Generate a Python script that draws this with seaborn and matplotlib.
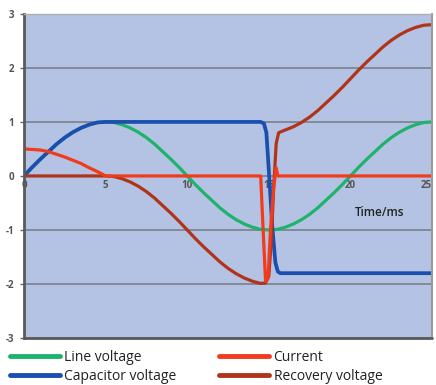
import seaborn as sns
import numpy as np
import matplotlib.pyplot as plt
import pandas as pd

# Values (time in ms, per-unit values)
t_line = [0, 0.5, 1, 1.5, 2, 2.5, 3, 3.5, 4, 4.5, 5, 5.5, 6, 6.5, 7, 7.5, 8, 8.5, 9, 9.5,
          10, 10.5, 11, 11.5, 12, 12.5, 13, 13.5, 14, 14.5, 15, 15.5, 16, 16.5, 17, 17.5,
          18, 18.5, 19, 19.5, 20, 20.5, 21, 21.5, 22, 22.5, 23, 23.5, 24, 24.5, 25]
line_voltage = [0, 0.16, 0.31, 0.45, 0.59, 0.71, 0.81, 0.89, 0.95, 0.99, 1.0, 0.99, 0.95,
                0.89, 0.81, 0.71, 0.59, 0.45, 0.31, 0.16, 0, -0.16, -0.31, -0.45, -0.59,
                -0.71, -0.81, -0.89, -0.95, -0.99, -1.0, -0.99, -0.95, -0.89, -0.81, -0.71,
                -0.59, -0.45, -0.31, -0.16, 0, 0.16, 0.31, 0.45, 0.59, 0.71, 0.81, 0.89,
                0.95, 0.99, 1.0]

t_cap = [0, 0.5, 1, 1.5, 2, 2.5, 3, 3.5, 4, 4.5, 5, 10, 14.5, 14.7, 14.85, 15.0, 15.2,
         15.4, 15.55, 15.7, 25]
capacitor_voltage = [0, 0.16, 0.31, 0.45, 0.59, 0.71, 0.81, 0.89, 0.95, 0.99, 1.0, 1.0,
                     1.0, 0.97, 0.8, 0.1, -0.9, -1.6, -1.77, -1.8, -1.8]

t_cur = [0, 0.5, 1, 1.5, 2, 2.5, 3, 3.5, 4, 4.5, 5, 10, 14.5, 14.65, 14.8, 14.95, 15.1,
         15.3, 15.45, 15.55, 25]
current = [0.5, 0.49, 0.48, 0.45, 0.4, 0.35, 0.29, 0.23, 0.15, 0.08, 0, 0, 0, -1.0,
           -1.95, -1.9, -1.0, -0.2, 0.15, 0, 0]

t_rec = [0, 5, 5.5, 6, 6.5, 7, 7.5, 8, 8.5, 9, 9.5, 10, 10.5, 11, 11.5, 12, 12.5, 13,
         13.5, 14, 14.5, 14.8, 15.0, 15.15, 15.3, 15.45, 15.6, 16, 16.5, 17, 17.5, 18,
         18.5, 19, 19.5, 20, 20.5, 21, 21.5, 22, 22.5, 23, 23.5, 24, 24.5, 25]
recovery_voltage = [0, 0, -0.01, -0.05, -0.11, -0.19, -0.29, -0.41, -0.55, -0.69, -0.84,
                    -1.0, -1.16, -1.31, -1.45, -1.59, -1.71, -1.81, -1.89, -1.95, -1.99,
                    -1.98, -1.85, -1.2, -0.2, 0.6, 0.8, 0.85, 0.91, 0.99, 1.09, 1.21,
                    1.35, 1.49, 1.64, 1.8, 1.96, 2.11, 2.25, 2.39, 2.51, 2.61, 2.69, 2.75,
                    2.79, 2.8]

x_ticks = [0, 5, 10, 15, 20, 25]
y_ticks = [-3, -2, -1, 0, 1, 2, 3]

sns.set_style("white")
plt.rcParams['font.family'] = ['Open Sans', 'DejaVu Sans']

fig = plt.figure(figsize=(4.36, 3.85), dpi=100)
ax = fig.add_axes([0.055, 0.122, 0.936, 0.842])
ax.set_facecolor('#b4c3e3')

for y in y_ticks:
    ax.axhline(y, color='#7d8494', lw=1.3, zorder=0)

green = '#1db36b'
blue = '#1a4fb0'
brown = '#b0341a'
red = '#f23a1c'

sns.lineplot(x=t_line, y=line_voltage, ax=ax, color=green, lw=2.3, sort=False, label='Line voltage')
sns.lineplot(x=t_cap, y=capacitor_voltage, ax=ax, color=blue, lw=2.7, sort=False, label='Capacitor voltage')
sns.lineplot(x=t_rec, y=recovery_voltage, ax=ax, color=brown, lw=2.3, sort=False, label='Recovery voltage')
sns.lineplot(x=t_cur, y=current, ax=ax, color=red, lw=2.3, sort=False, label='Current')

ax.set_xlim(0, 25)
ax.set_ylim(-3, 3)
ax.set_xlabel('')
ax.set_ylabel('')

# x axis crossing at zero
ax.spines['bottom'].set_position(('data', 0))
ax.spines['bottom'].set_linewidth(0)
ax.set_xticks(x_ticks)
ax.set_xticklabels([str(v) for v in x_ticks])
ax.tick_params(axis='x', length=0, pad=3, labelsize=7, labelcolor='#555555')
for lbl in ax.get_xticklabels():
    lbl.set_fontweight('bold')
# keep the last label inside the figure
ax.get_xticklabels()[-1].set_horizontalalignment('right')

ax.set_yticks(y_ticks)
ax.set_yticklabels([str(v) for v in y_ticks])
ax.tick_params(axis='y', length=3, width=1, color='#666666', pad=4, labelsize=7,
               labelcolor='#555555', left=True)
for lbl in ax.get_yticklabels():
    lbl.set_fontweight('bold')

ax.spines['left'].set_color('#5a5a5a')
ax.spines['left'].set_linewidth(2)
ax.spines['right'].set_color('#9a9a9a')
ax.spines['right'].set_linewidth(1.5)
ax.spines['top'].set_color('#b0b0b0')
ax.spines['top'].set_linewidth(1)
ax.axhline(-3, color='#5a5a5a', lw=2, clip_on=False, zorder=3)

ax.text(21.8, -0.67, 'Time/ms', ha='center', va='center', fontsize=8.5,
        color='#222222', fontweight='semibold')

handles, labels = ax.get_legend_handles_labels()
order = ['Line voltage', 'Capacitor voltage', 'Current', 'Recovery voltage']
hmap = dict(zip(labels, handles))
leg = ax.legend([hmap[k] for k in order], order, ncol=2, loc='upper left',
                bbox_to_anchor=(-0.048, -0.02), frameon=False, fontsize=10,
                handlelength=3.6, handletextpad=0.3, columnspacing=3.1,
                labelspacing=0.25, borderaxespad=0)
for line in leg.get_lines():
    line.set_linewidth(3.5)
for txt in leg.get_texts():
    txt.set_color('#222222')

fig.savefig('out.png', dpi=100)
